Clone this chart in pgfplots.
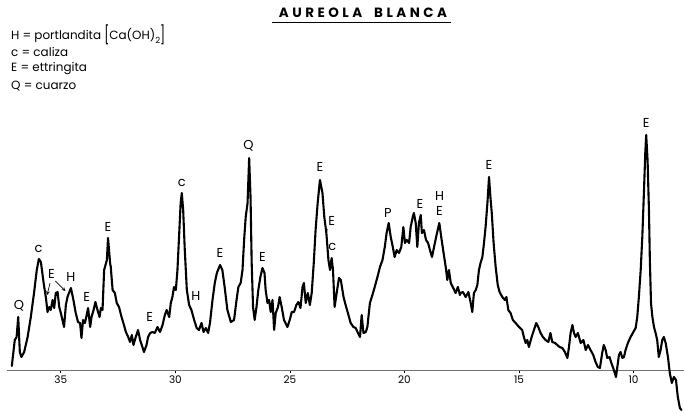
\documentclass[border=0pt]{standalone}
\usepackage{pgfplots}
\pgfplotsset{compat=1.18}
\usepackage{fontspec}
\setmainfont{Poppins}

% diffractogram: 2theta (degrees), intensity (arbitrary units)
\pgfplotstableread{
x y
37.14 4
37.01 30
36.93 33
36.86 53
36.79 18
36.72 13
36.60 18
36.45 33
36.31 53
36.17 77
36.05 100
35.96 111
35.87 108
35.75 87
35.65 72
35.58 58
35.51 63
35.44 60
35.36 70
35.29 62
35.22 77
35.14 78
35.07 63
35.00 57
34.93 50
34.86 43
34.78 65
34.71 73
34.56 82
34.45 70
34.35 57
34.25 48
34.16 47
34.10 32
34.03 50
33.95 47
33.87 55
33.81 62
33.72 43
33.66 53
33.57 60
33.49 68
33.40 60
33.31 53
33.25 62
33.18 60
33.11 100
32.99 110
32.94 132
32.85 107
32.82 103
32.74 80
32.64 77
32.56 67
32.46 63
32.35 53
32.27 47
32.16 38
32.06 33
31.98 28
31.90 35
31.83 25
31.73 33
31.63 40
31.54 30
31.44 23
31.37 18
31.26 25
31.19 33
31.10 37
31.00 38
30.90 37
30.78 43
30.67 38
30.56 45
30.46 55
30.38 60
30.27 53
30.20 67
30.13 73
30.06 83
29.98 80
29.91 100
29.84 133
29.77 167
29.72 177
29.66 160
29.59 120
29.50 80
29.40 65
29.30 60
29.18 50
29.07 42
28.97 40
28.86 47
28.77 38
28.67 42
28.57 37
28.49 47
28.38 70
28.28 87
28.19 97
28.05 105
27.95 100
27.85 83
27.73 60
27.58 48
27.44 50
27.33 70
27.25 83
27.15 87
27.07 100
27.00 130
26.93 153
26.85 167
26.78 212
26.72 173
26.67 107
26.61 63
26.54 50
26.46 63
26.38 80
26.29 93
26.20 102
26.11 97
26.06 80
25.98 67
25.91 70
25.84 58
25.76 70
25.69 40
25.62 57
25.52 63
25.45 73
25.36 63
25.26 50
25.11 43
25.01 50
24.92 58
24.82 58
24.72 65
24.63 68
24.54 62
24.45 83
24.39 87
24.31 67
24.22 77
24.13 65
24.05 77
23.96 107
23.88 140
23.79 167
23.69 190
23.58 177
23.50 153
23.41 137
23.32 110
23.25 100
23.18 112
23.12 100
23.05 63
22.96 77
22.86 92
22.78 90
22.66 73
22.57 65
22.47 57
22.35 47
22.23 43
22.13 42
22.03 37
21.94 33
21.87 55
21.79 37
21.69 38
21.62 43
21.51 67
21.40 75
21.30 83
21.18 93
21.07 103
20.96 110
20.86 123
20.78 137
20.69 147
20.60 133
20.51 123
20.43 113
20.34 120
20.24 117
20.14 123
20.05 143
19.98 127
19.90 130
19.80 127
19.73 143
19.64 153
19.59 157
19.51 147
19.44 123
19.37 147
19.29 155
19.24 137
19.15 140
19.06 130
18.97 127
18.89 120
18.80 113
18.71 123
18.60 135
18.48 147
18.39 132
18.30 118
18.20 103
18.13 90
18.06 100
17.98 87
17.87 82
17.77 77
17.67 83
17.58 75
17.55 77
17.45 78
17.33 73
17.21 78
17.11 67
17.04 58
16.97 77
16.89 80
16.82 85
16.75 100
16.68 107
16.60 113
16.53 127
16.46 143
16.38 167
16.31 193
16.25 173
16.19 157
16.11 127
16.02 103
15.93 85
15.85 78
15.73 73
15.62 70
15.55 73
15.47 60
15.37 57
15.27 50
15.15 47
15.00 43
14.86 40
14.79 33
14.71 27
14.64 30
14.57 23
14.45 33
14.35 40
14.25 47
14.16 43
14.06 37
13.96 33
13.84 30
13.72 28
13.63 37
13.55 28
13.43 27
13.33 25
13.23 23
13.11 22
13.00 18
12.89 12
12.82 23
12.75 37
12.67 45
12.60 37
12.53 33
12.43 37
12.31 27
12.19 30
12.09 20
11.99 25
11.88 20
11.76 15
11.66 8
11.56 3
11.47 2
11.37 17
11.30 25
11.22 20
11.15 12
11.05 13
10.97 7
10.89 2
10.82 -3
10.77 -7
10.71 3
10.64 15
10.57 18
10.49 12
10.42 13
10.35 20
10.25 27
10.13 33
10.01 38
9.91 42
9.84 53
9.77 73
9.69 100
9.62 133
9.55 177
9.49 217
9.45 235
9.39 210
9.33 160
9.29 110
9.24 67
9.18 53
9.11 43
9.04 37
8.97 30
8.90 13
8.82 20
8.75 30
8.68 33
8.60 27
8.50 13
8.42 -3
8.33 -13
8.24 -7
8.15 -10
8.07 -27
7.98 -38
7.91 -40
}\difrac

\begin{document}
\begin{tikzpicture}
\path[use as bounding box] (0,0) rectangle (684bp,413bp);

% title and key
\node[font=\fontsize{13.5}{15}\selectfont\bfseries\addfontfeature{LetterSpace=26}] at (363bp,400.5bp) {AUREOLA\hspace{12bp}BLANCA};
\draw[line width=1.3bp] (272bp,390.5bp) -- (451bp,390.5bp);
\begin{scope}[every node/.style={anchor=west, inner sep=0pt, font=\fontsize{12}{14}\selectfont}]
  \node at (11bp,378bp) {H = portlandita \raisebox{-0.3ex}{\scalebox{1}[1.5]{[}}Ca(OH)\raisebox{-0.5ex}{\fontsize{8.5}{9}\selectfont 2}\raisebox{-0.3ex}{\scalebox{1}[1.5]{]}}};
  \node at (11bp,361bp) {c = caliza};
  \node at (11bp,344bp) {E = ettringita};
  \node at (11bp,327bp) {Q = cuarzo};
\end{scope}

\begin{axis}[
  at={(7bp,43bp)}, anchor=south west,
  scale only axis, width=677bp, height=235bp,
  x dir=reverse, xmin=7.8, xmax=37.35, ymin=0, ymax=235,
  clip=false,
  axis x line=bottom, axis y line=none,
  x axis line style={-, black!55, line width=0.7bp},
  xtick={10,15,20,25,30,35},
  tick align=outside, major tick length=3.5bp,
  tick style={black, line width=0.8bp},
  xticklabel style={font=\fontsize{10.5}{12}\selectfont, inner sep=2.5pt},
  /pgf/number format/assume math mode=true,
]
\addplot[black, line width=2.1bp, line join=round, line cap=round] table[x=x, y=y] {\difrac};

% phase labels above the reflections
\begin{scope}[every node/.style={font=\fontsize{13}{15}\selectfont, inner sep=0pt}]
  \node at (axis cs:36.83,64) {Q};
  \node at (axis cs:35.97,121) {c};
  \node at (axis cs:35.41,96) {E};
  \node at (axis cs:34.56,93) {H};
  \node at (axis cs:33.87,73) {E};
  \node at (axis cs:32.94,143) {E};
  \node at (axis cs:31.12,53) {E};
  \node at (axis cs:29.72,187) {c};
  \node at (axis cs:29.11,74) {H};
  \node at (axis cs:28.05,117) {E};
  \node at (axis cs:26.81,224) {Q};
  \node at (axis cs:26.20,113) {E};
  \node at (axis cs:23.69,203) {E};
  \node at (axis cs:23.18,149) {E};
  \node at (axis cs:23.15,123) {c};
  \node at (axis cs:20.72,157) {P};
  \node at (axis cs:19.32,166) {E};
  \node at (axis cs:18.47,174) {H};
  \node at (axis cs:18.47,159) {E};
  \node at (axis cs:16.31,205) {E};
  \node at (axis cs:9.45,247) {E};
\end{scope}
\draw[-stealth, line width=0.7bp] (axis cs:35.47,87) -- (axis cs:35.60,75);
\draw[-stealth, line width=0.7bp] (axis cs:35.24,89) -- (axis cs:34.80,79);
\draw[line width=0.7bp] (axis cs:23.37,141) -- (axis cs:23.42,136);
\end{axis}
\end{tikzpicture}
\end{document}
